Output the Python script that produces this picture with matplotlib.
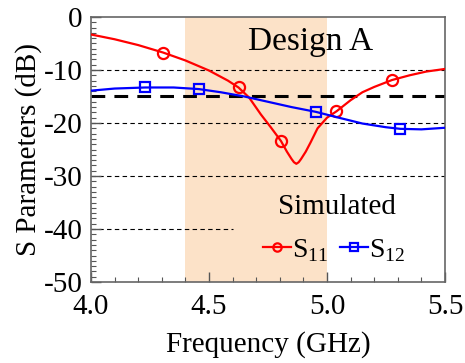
import matplotlib
matplotlib.use("Agg")
import matplotlib.pyplot as plt
from matplotlib.ticker import MultipleLocator, FormatStrFormatter

plt.rcParams['font.family'] = ['Liberation Serif', 'DejaVu Serif']
plt.rcParams['axes.unicode_minus'] = False
plt.rcParams['mathtext.fontset'] = 'custom'
plt.rcParams['mathtext.rm'] = 'Liberation Serif'

# Simulated S11 (dB)
freq_s11 = [4.00, 4.10, 4.20, 4.305, 4.40, 4.50, 4.58, 4.625, 4.67, 4.72, 4.76,
            4.805, 4.83, 4.85, 4.86, 4.87, 4.88, 4.89, 4.91, 4.93, 4.96, 5.00,
            5.04, 5.10, 5.15, 5.20, 5.275, 5.35, 5.42, 5.50]
s11 = [-3.3, -4.2, -5.3, -6.7, -8.2, -10.1, -12.0, -13.3, -15.2, -18.4, -20.7,
       -23.4, -25.4, -26.8, -27.4, -27.7, -27.4, -26.8, -25.4, -23.7, -21.0, -19.0,
       -17.8, -15.7, -14.2, -13.2, -11.9, -11.0, -10.3, -9.8]
mark_s11 = [3, 7, 11, 22, 26]

# Simulated S12 (dB)
freq_s12 = [4.00, 4.10, 4.23, 4.35, 4.457, 4.55, 4.65, 4.75, 4.85, 4.953,
            5.05, 5.15, 5.25, 5.31, 5.40, 5.50]
s12 = [-13.9, -13.5, -13.3, -13.3, -13.6, -14.2, -15.0, -16.0, -17.0, -17.9,
       -19.0, -20.1, -20.8, -21.1, -21.2, -20.9]
mark_s12 = [2, 4, 9, 13]

band = (4.4, 5.0)
ref_level = -15
grid_levels = [-10, -20, -30]
short_grid_level = -40
short_grid_end = 4.6

fig = plt.figure(figsize=(4.65, 3.63), dpi=100)
ax = fig.add_axes([0.1957, 0.2231, 0.7613, 0.7301])

ax.axvspan(*band, color='#fce2c8', lw=0, zorder=0)
for lvl in grid_levels:
    ax.axhline(lvl, color='black', lw=0.8, ls=(0, (4, 3)), zorder=1)
ax.plot([4.0, short_grid_end], [short_grid_level] * 2, color='black', lw=0.8,
        ls=(0, (4, 3)), zorder=1)
ax.axhline(ref_level, color='black', lw=2.2, ls=(0, (4.5, 3)), zorder=2)

ax.plot(freq_s11, s11, color='#ff0000', lw=1.6, marker='o', ms=8,
        mfc='none', mew=1.6, markevery=mark_s11, label=r'S$_{11}$', zorder=3)
ax.plot(freq_s12, s12, color='#0000ff', lw=1.6, marker='s', ms=7.5,
        mfc='none', mew=1.6, markevery=mark_s12, label=r'S$_{12}$', zorder=3)

ax.set_xlim(4.0, 5.5)
ax.set_ylim(-50, 0)
ax.xaxis.set_major_locator(MultipleLocator(0.5))
ax.xaxis.set_minor_locator(MultipleLocator(0.1))
ax.yaxis.set_major_locator(MultipleLocator(10))
ax.yaxis.set_minor_locator(MultipleLocator(1))
ax.xaxis.set_major_formatter(FormatStrFormatter('%.1f'))
ax.tick_params(which='both', direction='in', labelsize=21, color='#555555')
ax.tick_params(which='major', length=7, width=1.0)
ax.tick_params(which='minor', length=3.5, width=0.8)
ax.tick_params(axis='x', pad=8.5)
ax.tick_params(axis='y', pad=6)
for sp in ax.spines.values():
    sp.set_color('#666666')
    sp.set_linewidth(1.2)

ax.set_xlabel('Frequency (GHz)', fontsize=21, labelpad=8)
ax.set_ylabel('S Parameters (dB)', fontsize=21, labelpad=1)

ax.text(4.93, -4.6, 'Design A', fontsize=24, ha='center', va='center')
ax.text(5.042, -35.8, 'Simulated', fontsize=21, ha='center', va='center')

leg = ax.legend(ncol=2, frameon=False, fontsize=20, handlelength=1.0,
                handletextpad=0.05, columnspacing=0.4, loc='center',
                bbox_to_anchor=(0.687, 0.12), borderpad=0.1)
for h in leg.legend_handles:
    h.set_markersize(6)

fig.savefig('out.png', dpi=100)
